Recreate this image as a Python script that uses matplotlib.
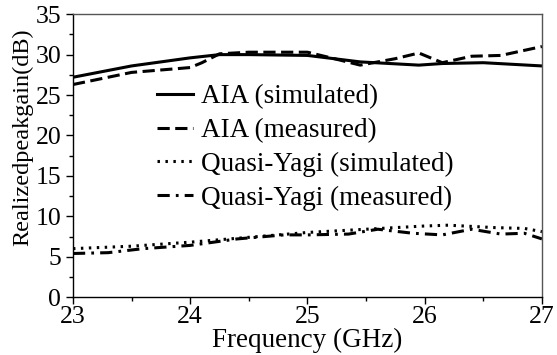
import matplotlib.pyplot as plt
from matplotlib.ticker import MultipleLocator

plt.rcParams['font.family'] = ['Liberation Serif', 'DejaVu Serif']

# AIA curves
aia_sim_f = [23.0, 23.5, 24.0, 24.25, 24.5, 25.0, 25.45, 25.95, 26.15, 26.5, 27.0]
aia_sim_g = [27.2, 28.6, 29.6, 30.0, 30.0, 29.9, 29.1, 28.7, 28.9, 29.0, 28.6]

aia_meas_f = [23.0, 23.5, 24.0, 24.1, 24.25, 24.5, 25.0, 25.2, 25.45, 25.75, 25.95, 26.15, 26.4, 26.65, 27.0]
aia_meas_g = [26.3, 27.8, 28.4, 29.0, 30.1, 30.3, 30.3, 29.6, 28.7, 29.5, 30.2, 29.0, 29.8, 29.9, 31.0]

# Quasi-Yagi curves
qy_sim_f = [23.0, 23.5, 24.0, 24.5, 25.0, 25.5, 26.0, 26.2, 26.6, 26.85, 27.0]
qy_sim_g = [6.0, 6.3, 6.8, 7.4, 8.0, 8.4, 8.8, 8.9, 8.6, 8.5, 8.1]

qy_meas_f = [23.0, 23.3, 23.6, 24.0, 24.4, 24.8, 25.0, 25.35, 25.6, 25.9, 26.15, 26.4, 26.65, 26.85, 27.0]
qy_meas_g = [5.4, 5.5, 6.0, 6.4, 7.2, 7.7, 7.7, 7.8, 8.4, 7.9, 7.7, 8.4, 7.8, 7.9, 7.2]

fig = plt.figure(figsize=(5.57, 3.55), dpi=100)
ax = fig.add_axes([0.131, 0.163, 0.842, 0.797])

lw = 2.2
ax.plot(aia_sim_f, aia_sim_g, color='black', lw=lw, ls='-', label='AIA (simulated)')
ax.plot(aia_meas_f, aia_meas_g, color='black', lw=lw, ls=(0, (4, 1.8)), label='AIA (measured)')
ax.plot(qy_sim_f, qy_sim_g, color='black', lw=lw, ls=(0, (0.8, 1.8)), label='Quasi-Yagi (simulated)')
ax.plot(qy_meas_f, qy_meas_g, color='black', lw=lw, ls=(0, (4, 2, 0.9, 2)), label='Quasi-Yagi (measured)')

ax.set_xlim(23, 27)
ax.set_ylim(0, 35)
ax.xaxis.set_major_locator(MultipleLocator(1))
ax.xaxis.set_minor_locator(MultipleLocator(0.5))
ax.yaxis.set_major_locator(MultipleLocator(5))
ax.yaxis.set_minor_locator(MultipleLocator(2.5))
# ticks point outward, only on the left and bottom
ax.tick_params(which='both', direction='out', top=False, right=False, labelsize=18.5, width=1)
ax.tick_params(which='major', length=5)
ax.tick_params(which='minor', length=3)
ax.tick_params(axis='y', pad=3.5)
ax.tick_params(axis='x', pad=1.5)
for s in ax.spines.values():
    s.set_linewidth(1)
ax.spines['top'].set_color('#555555')
ax.spines['right'].set_color('#555555')

ax.set_xlabel('Frequency (GHz)', fontsize=19.5)
ax.xaxis.set_label_coords(0.5, -0.11)
ax.set_ylabel('Realizedpeakgain(dB)', fontsize=17.5)
ax.yaxis.set_label_coords(-0.085, 0.565)

ax.legend(loc='upper left', bbox_to_anchor=(0.179, 0.752), frameon=False, fontsize=19.5,
          handlelength=1.35, handletextpad=0.28, labelspacing=0.32,
          borderpad=0, borderaxespad=0)

fig.savefig('out.png', dpi=100)
